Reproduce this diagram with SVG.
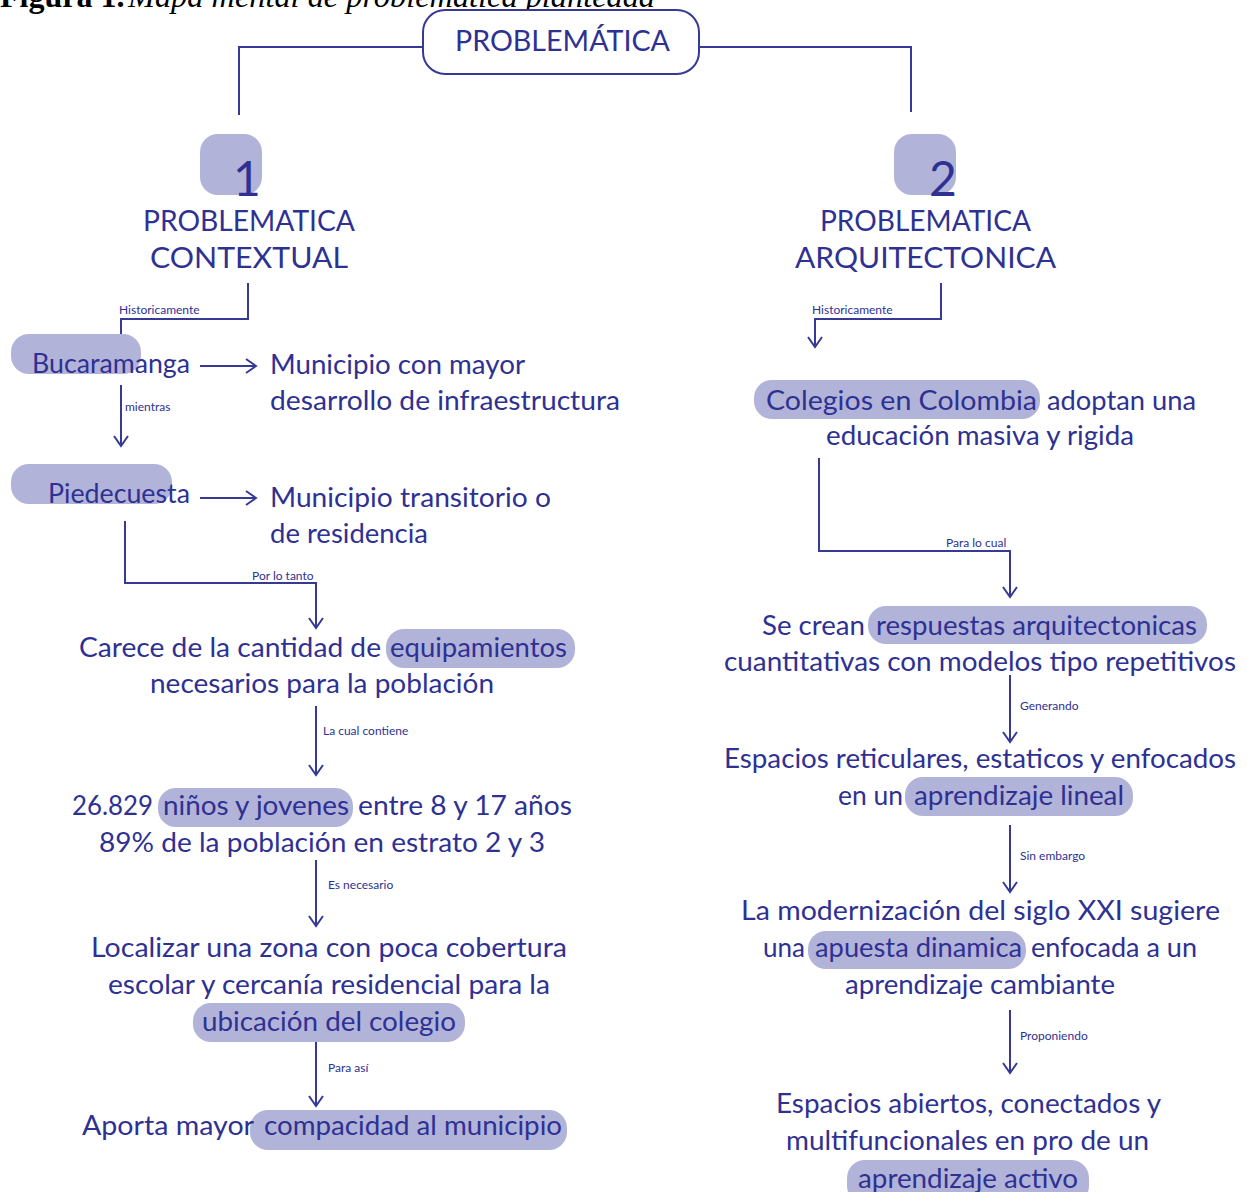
<svg xmlns="http://www.w3.org/2000/svg" width="1247" height="1192" viewBox="0 0 1247 1192">
<defs>
<style>
.t{font-family:Lato,"Noto Sans",sans-serif;font-size:27px;fill:#2e3192}
.h{font-family:Lato,"Noto Sans",sans-serif;font-size:28px;fill:#2e3192}
.s{font-family:Lato,"Noto Sans",sans-serif;font-size:12px;fill:#2e3192}
.n{font-family:Lato,"Noto Sans",sans-serif;font-size:48px;fill:#2e3192}
.hl{fill:#b2b3d9}
.c{fill:none;stroke:#363a94;stroke-width:2}
.cap{font-family:"Liberation Serif",serif;font-size:32px;fill:#000}
</style>
<marker id="ah" viewBox="-12 -8 14 16" markerWidth="14" markerHeight="16" markerUnits="userSpaceOnUse" refX="0" refY="0" orient="auto">
<path d="M-10,-7 L0,0 L-10,7" fill="none" stroke="#363a94" stroke-width="2"/>
</marker>
</defs>
<rect width="1247" height="1192" fill="#fff"/>

<g id="caption">
<text class="cap" x="0" y="7"><tspan font-weight="bold">Figura 1.</tspan><tspan font-style="italic" x="128" textLength="527" lengthAdjust="spacingAndGlyphs">Mapa mental de problemática planteada</tspan></text>
</g>

<g id="connectors">
<path class="c" d="M423,47 H239 V115"/>
<path class="c" d="M699,47 H911 V112"/>
<path class="c" d="M248,283 V319 H121 V347" marker-end="url(#ah)"/>
<path class="c" d="M941,283 V319 H815 V347" marker-end="url(#ah)"/>
<path class="c" d="M200,366 H256" marker-end="url(#ah)"/>
<path class="c" d="M121,385 V446" marker-end="url(#ah)"/>
<path class="c" d="M200,498 H256" marker-end="url(#ah)"/>
<path class="c" d="M125,521 V583 H316 V628" marker-end="url(#ah)"/>
<path class="c" d="M316,706 V775" marker-end="url(#ah)"/>
<path class="c" d="M316,860 V926" marker-end="url(#ah)"/>
<path class="c" d="M316,1038 V1106" marker-end="url(#ah)"/>
<path class="c" d="M819,458 V551 H1010 V597" marker-end="url(#ah)"/>
<path class="c" d="M1010,675 V742" marker-end="url(#ah)"/>
<path class="c" d="M1010,825 V892" marker-end="url(#ah)"/>
<path class="c" d="M1010,1010 V1073" marker-end="url(#ah)"/>
<text class="s" x="119" y="314">Historicamente</text>
<text class="s" x="812" y="314">Historicamente</text>
<text class="s" x="125" y="411">mientras</text>
<text class="s" x="252" y="580">Por lo tanto</text>
<text class="s" x="323" y="735">La cual contiene</text>
<text class="s" x="328" y="889">Es necesario</text>
<text class="s" x="328" y="1072">Para así</text>
<text class="s" x="946" y="547">Para lo cual</text>
<text class="s" x="1020" y="710">Generando</text>
<text class="s" x="1020" y="860">Sin embargo</text>
<text class="s" x="1020" y="1040">Proponiendo</text>
</g>

<g id="root">
<rect x="423" y="10" width="276" height="64" rx="22" fill="#fff" stroke="#363a94" stroke-width="2"/>
<text class="h" x="455" y="51" textLength="215" lengthAdjust="spacingAndGlyphs">PROBLEMÁTICA</text>
</g>

<g id="p1">
<rect class="hl" x="200" y="134" width="62" height="61" rx="18"/>
<text class="n" x="247" y="196" text-anchor="middle">1</text>
<text class="h" x="143" y="231" textLength="212" lengthAdjust="spacingAndGlyphs">PROBLEMATICA</text>
<text class="h" x="150" y="268" textLength="198" lengthAdjust="spacingAndGlyphs">CONTEXTUAL</text>
</g>

<g id="p2">
<rect class="hl" x="894" y="134" width="62" height="61" rx="18"/>
<text class="n" x="943" y="196" text-anchor="middle">2</text>
<text class="h" x="820" y="231" textLength="211" lengthAdjust="spacingAndGlyphs">PROBLEMATICA</text>
<text class="h" x="795" y="268" textLength="261" lengthAdjust="spacingAndGlyphs">ARQUITECTONICA</text>
</g>

<g id="bucaramanga">
<rect class="hl" x="11" y="334" width="130" height="40" rx="18"/>
<text class="t" x="32" y="373" textLength="158" lengthAdjust="spacingAndGlyphs">Bucaramanga</text>
</g>
<g id="municipio-mayor">
<text class="t" x="270" y="374" textLength="255" lengthAdjust="spacingAndGlyphs">Municipio con mayor</text>
<text class="t" x="270" y="410" textLength="350" lengthAdjust="spacingAndGlyphs">desarrollo de infraestructura</text>
</g>
<g id="piedecuesta">
<rect class="hl" x="11" y="464" width="161" height="40" rx="18"/>
<text class="t" x="48" y="503" textLength="142" lengthAdjust="spacingAndGlyphs">Piedecuesta</text>
</g>
<g id="municipio-transitorio">
<text class="t" x="270" y="507" textLength="281" lengthAdjust="spacingAndGlyphs">Municipio transitorio o</text>
<text class="t" x="270" y="543" textLength="158" lengthAdjust="spacingAndGlyphs">de residencia</text>
</g>
<g id="carece">
<rect class="hl" x="386" y="629" width="189" height="39" rx="18"/>
<text class="t" x="79" y="657" textLength="302" lengthAdjust="spacingAndGlyphs">Carece de la cantidad de</text>
<text class="t" x="390" y="657" textLength="177" lengthAdjust="spacingAndGlyphs">equipamientos</text>
<text class="t" x="150" y="693" textLength="344" lengthAdjust="spacingAndGlyphs">necesarios para la población</text>
</g>
<g id="ninos">
<rect class="hl" x="158" y="788" width="195" height="39" rx="18"/>
<text class="t" x="72" y="815" textLength="81" lengthAdjust="spacingAndGlyphs">26.829</text>
<text class="t" x="163" y="815" textLength="186" lengthAdjust="spacingAndGlyphs">niños y jovenes</text>
<text class="t" x="358" y="815" textLength="214" lengthAdjust="spacingAndGlyphs">entre 8 y 17 años</text>
<text class="t" x="99" y="852" textLength="446" lengthAdjust="spacingAndGlyphs">89% de la población en estrato 2 y 3</text>
</g>
<g id="localizar">
<rect class="hl" x="193" y="1003" width="272" height="39" rx="18"/>
<text class="t" x="91" y="957" textLength="476" lengthAdjust="spacingAndGlyphs">Localizar una zona con poca cobertura</text>
<text class="t" x="108" y="994" textLength="442" lengthAdjust="spacingAndGlyphs">escolar y cercanía residencial para la</text>
<text class="t" x="202" y="1031" textLength="254" lengthAdjust="spacingAndGlyphs">ubicación del colegio</text>
</g>
<g id="aporta">
<rect class="hl" x="250" y="1110" width="317" height="40" rx="18"/>
<text class="t" x="82" y="1135" textLength="172" lengthAdjust="spacingAndGlyphs">Aporta mayor</text>
<text class="t" x="264" y="1135" textLength="298" lengthAdjust="spacingAndGlyphs">compacidad al municipio</text>
</g>

<g id="colegios">
<rect class="hl" x="754" y="380" width="286" height="39" rx="18"/>
<text class="t" x="766" y="410" textLength="271" lengthAdjust="spacingAndGlyphs">Colegios en Colombia</text>
<text class="t" x="1047" y="410" textLength="149" lengthAdjust="spacingAndGlyphs">adoptan una</text>
<text class="t" x="826" y="445" textLength="308" lengthAdjust="spacingAndGlyphs">educación masiva y rigida</text>
</g>
<g id="se-crean">
<rect class="hl" x="868" y="606" width="339" height="38" rx="18"/>
<text class="t" x="762" y="635" textLength="103" lengthAdjust="spacingAndGlyphs">Se crean</text>
<text class="t" x="876" y="635" textLength="321" lengthAdjust="spacingAndGlyphs">respuestas arquitectonicas</text>
<text class="t" x="724" y="671" textLength="512" lengthAdjust="spacingAndGlyphs">cuantitativas con modelos tipo repetitivos</text>
</g>
<g id="espacios-reticulares">
<rect class="hl" x="905" y="777" width="228" height="39" rx="18"/>
<text class="t" x="724" y="768" textLength="512" lengthAdjust="spacingAndGlyphs">Espacios reticulares, estaticos y enfocados</text>
<text class="t" x="838" y="805" textLength="65" lengthAdjust="spacingAndGlyphs">en un</text>
<text class="t" x="914" y="805" textLength="210" lengthAdjust="spacingAndGlyphs">aprendizaje lineal</text>
</g>
<g id="modernizacion">
<rect class="hl" x="808" y="931" width="218" height="38" rx="18"/>
<text class="t" x="741" y="920" textLength="479" lengthAdjust="spacingAndGlyphs">La modernización del siglo XXI sugiere</text>
<text class="t" x="763" y="957" textLength="42" lengthAdjust="spacingAndGlyphs">una</text>
<text class="t" x="815" y="957" textLength="207" lengthAdjust="spacingAndGlyphs">apuesta dinamica</text>
<text class="t" x="1031" y="957" textLength="166" lengthAdjust="spacingAndGlyphs">enfocada a un</text>
<text class="t" x="845" y="994" textLength="270" lengthAdjust="spacingAndGlyphs">aprendizaje cambiante</text>
</g>
<g id="espacios-abiertos">
<rect class="hl" x="847" y="1160" width="242" height="44" rx="18"/>
<text class="t" x="776" y="1113" textLength="385" lengthAdjust="spacingAndGlyphs">Espacios abiertos, conectados y</text>
<text class="t" x="786" y="1150" textLength="363" lengthAdjust="spacingAndGlyphs">multifuncionales en pro de un</text>
<text class="t" x="858" y="1188" textLength="220" lengthAdjust="spacingAndGlyphs">aprendizaje activo</text>
</g>
</svg>
